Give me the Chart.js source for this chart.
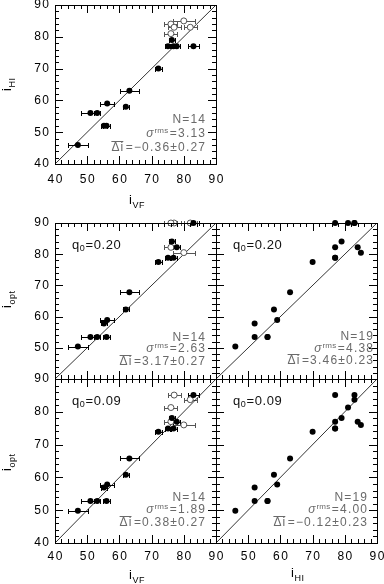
<!DOCTYPE html>
<html lang="en">
<head>
<meta charset="utf-8" />
<title>Inclinations: i_HI, i_opt vs i_VF</title>
<style>
  html, body { margin: 0; padding: 0; background: #fff; }
  #wrap { position: relative; width: 384px; height: 584px; }
  #wrap canvas { position: absolute; left: 0; top: 0; }
</style>
<script src="https://cdn.jsdelivr.net/npm/chart.js"></script>
</head>
<body>
<div id="wrap">
  <canvas id="p1" width="384" height="584"></canvas>
  <canvas id="p2" width="384" height="584"></canvas>
  <canvas id="p3" width="384" height="584"></canvas>
  <canvas id="p4" width="384" height="584"></canvas>
  <canvas id="p5" width="384" height="584"></canvas>
</div>
<script>
// axis range / labels
const tickVals = [40, 50, 60, 70, 80, 90];
const diag = [40, 90];

// 14 galaxies with filled symbols (counted in N=14)
const vfFilled    = [47.1, 51.0, 53.1, 56.0, 55.2, 56.2, 62.0, 63.1, 72.1, 75.1, 76.8, 76.3, 77.8, 83.0];
const vfErrFilled = [3.0, 3.0, 1.0, 1.0, 1.0, 2.2, 1.0, 3.0, 1.0, 1.0, 1.0, 1.0, 1.0, 1.8];
const hiFilled    = [46, 56, 56, 52, 52, 59, 58, 63, 70, 77, 77, 79, 77, 77];
const opt20Filled = [50.4, 53.5, 53.5, 53.5, 57.8, 58.9, 62.3, 67.8, 77.5, 78.9, 78.9, 84.1, 82.2, 90];
const opt09Filled = [49.8, 52.8, 52.8, 52.8, 56.9, 57.8, 60.8, 65.8, 73.9, 74.9, 74.9, 78.1, 77.0, 85.1];

// 5 galaxies with open symbols
const vfOpen    = [80, 76, 77, 82, 76];
const vfErrOpen = [3.5, 2.0, 2.0, 2.0, 2.0];
const hiOpen    = [85, 84, 83, 83, 81];
const opt20Open = [80.5, 82.2, 90, 90, 90];
const opt09Open = [76.0, 77.0, 85.1, 83.7, 81.3];

// panel statistics
const statN   = ['14', '14', '19', '14', '19'];
const statSig = ['3.13', '2.63', '4.38', '1.89', '4.00'];
const statDi  = ['\u22120.36\u00b10.27', '3.17\u00b10.27', '3.46\u00b10.23', '0.38\u00b10.27', '\u22120.12\u00b10.23'];
const q0Text  = [null, '0.20', '0.20', '0.09', '0.09'];

const FONT = '"Liberation Sans", Arial, sans-serif';
const GREY = '#6a6a6a';

function pts(xs, ys) { return xs.map((x, i) => ({ x: x, y: ys[i] })); }

const errBars = {
  id: 'errBars',
  beforeDatasetsDraw(chart) {
    const ctx = chart.ctx, xs = chart.scales.x, ys = chart.scales.y;
    chart.data.datasets.forEach(ds => {
      if (!ds.xErr) return;
      ctx.save();
      ctx.strokeStyle = ds.errColor || '#000';
      ctx.lineWidth = 1;
      ds.data.forEach((p, i) => {
        const e = ds.xErr[i];
        const x0 = Math.round(xs.getPixelForValue(p.x - e)) + 0.5;
        const x1 = Math.round(xs.getPixelForValue(p.x + e)) + 0.5;
        const y = Math.round(ys.getPixelForValue(p.y)) + 0.5;
        ctx.beginPath();
        ctx.moveTo(x0, y); ctx.lineTo(x1, y);
        ctx.moveTo(x0, y - 2.5); ctx.lineTo(x0, y + 2.5);
        ctx.moveTo(x1, y - 2.5); ctx.lineTo(x1, y + 2.5);
        ctx.stroke();
      });
      ctx.restore();
    });
  }
};

function drawTitle(ctx, t, rotate) {
  ctx.save();
  ctx.fillStyle = '#000';
  ctx.textBaseline = 'alphabetic';
  ctx.textAlign = 'left';
  ctx.translate(t.x, t.y);
  if (rotate) ctx.rotate(-Math.PI / 2);
  ctx.font = '13px ' + FONT;
  ctx.fillText('i', 0, 0);
  const w = ctx.measureText('i').width;
  ctx.font = '9px ' + FONT;
  ctx.letterSpacing = '0.5px';
  ctx.fillText(t.sub, w + 0.5, 4);
  ctx.restore();
}

// right-aligned text that ignores the trailing letter spacing
function rText(ctx, s, x, y, sp) {
  ctx.fillText(s, x + sp, y);
  return ctx.measureText(s).width - sp;
}

const deco = {
  id: 'deco',
  afterDraw(chart, args, o) {
    const ctx = chart.ctx, a = chart.chartArea;
    const xs = chart.scales.x, ys = chart.scales.y;
    ctx.save();
    ctx.strokeStyle = '#000';
    ctx.lineWidth = 1;
    ctx.strokeRect(a.left + 0.5, a.top + 0.5, a.right - a.left, a.bottom - a.top);
    // inward ticks on all four sides
    ctx.beginPath();
    for (let v = 42; v < 90; v += 2) {
      const len = v % 10 === 0 ? 8 : 4;
      const px = Math.round(xs.getPixelForValue(v)) + 0.5;
      const py = Math.round(ys.getPixelForValue(v)) + 0.5;
      ctx.moveTo(px, a.bottom); ctx.lineTo(px, a.bottom - len);
      ctx.moveTo(px, a.top); ctx.lineTo(px, a.top + len);
      ctx.moveTo(a.left, py); ctx.lineTo(a.left + len, py);
      ctx.moveTo(a.right, py); ctx.lineTo(a.right - len, py);
    }
    ctx.stroke();

    // tick labels
    ctx.fillStyle = '#000';
    ctx.font = '12px ' + FONT;
    ctx.letterSpacing = '1.5px';
    ctx.textBaseline = 'middle';
    ctx.textAlign = 'right';
    (o.yLabels || []).forEach(v => {
      const py = Math.max(ys.getPixelForValue(v), 4.5);
      rText(ctx, String(v), a.left - 6, py, 1.5);
    });
    ctx.textAlign = 'center';
    (o.xLabels || []).forEach(v => {
      ctx.fillText(String(v), xs.getPixelForValue(v) + 0.75, a.bottom + o.xLabelGap);
    });
    ctx.letterSpacing = '0px';

    if (o.xTitle) drawTitle(ctx, o.xTitle, false);
    if (o.yTitle) drawTitle(ctx, o.yTitle, true);

    // q0 label
    if (o.q0) {
      ctx.textAlign = 'left';
      ctx.textBaseline = 'middle';
      ctx.fillStyle = '#111';
      ctx.font = '13px ' + FONT;
      ctx.letterSpacing = '0.6px';
      const qx = a.left + 17, qy = a.top + 22;
      ctx.fillText('q', qx, qy);
      let w = ctx.measureText('q').width;
      ctx.font = '9px ' + FONT;
      ctx.fillText('0', qx + w, qy + 4);
      w += ctx.measureText('0').width;
      ctx.font = '13px ' + FONT;
      ctx.fillText('=' + o.q0, qx + w, qy);
      ctx.letterSpacing = '0px';
    }

    // statistics block
    const s = o.stats;
    const sp = 1.2;
    ctx.fillStyle = GREY;
    ctx.textAlign = 'right';
    ctx.textBaseline = 'middle';
    ctx.font = '12px ' + FONT;
    ctx.letterSpacing = sp + 'px';
    rText(ctx, 'N=' + s.n, s.x, s.y, sp);
    // sigma^rms
    let y2 = s.y + s.dy;
    let w = rText(ctx, '=' + s.sig, s.x, y2, sp) + sp;
    ctx.font = '8px ' + FONT;
    ctx.letterSpacing = '0.3px';
    ctx.fillText('rms', s.x - w, y2 - 3);
    w += ctx.measureText('rms').width + 1;
    ctx.font = 'italic 12px ' + FONT;
    ctx.letterSpacing = '0px';
    ctx.fillText('\u03c3', s.x - w, y2);
    // mean delta i
    let y3 = s.y + 2 * s.dy + 1;
    ctx.font = '12px ' + FONT;
    ctx.letterSpacing = sp + 'px';
    w = rText(ctx, '=' + s.di, s.x, y3, sp) + sp;
    const wd = ctx.measureText('\u0394i').width;
    ctx.fillText('\u0394i', s.x - w, y3);
    ctx.strokeStyle = GREY;
    ctx.beginPath();
    ctx.moveTo(s.x - w - wd, Math.round(y3 - 7) + 0.5);
    ctx.lineTo(s.x - w - sp, Math.round(y3 - 7) + 0.5);
    ctx.stroke();
    ctx.restore();
  }
};

function makePanel(id, box, filled, open, cfg) {
  const sets = [
    { type: 'line', data: pts(diag, diag), borderColor: '#000', borderWidth: 0.8,
      pointRadius: 0, order: 3 }
  ];
  if (open) sets.push({
    data: open.data, xErr: open.err, errColor: '#555',
    pointRadius: 3, pointBackgroundColor: '#fff', pointBorderColor: '#555',
    pointBorderWidth: 1, clip: false, order: 2
  });
  sets.push({
    data: filled.data, xErr: filled.err, errColor: '#000',
    pointRadius: 3, pointBackgroundColor: '#000', pointBorderWidth: 0,
    clip: false, order: 1
  });
  return new Chart(document.getElementById(id), {
    type: 'scatter',
    data: { datasets: sets },
    options: {
      responsive: false,
      animation: false,
      devicePixelRatio: 1,
      layout: { padding: { left: box.l, top: box.t, right: 384 - box.r, bottom: 584 - box.b } },
      scales: {
        x: { type: 'linear', min: 40, max: 90, display: false },
        y: { type: 'linear', min: 40, max: 90, display: false }
      },
      plugins: { legend: { display: false }, tooltip: { enabled: false }, deco: cfg }
    },
    plugins: [errBars, deco]
  });
}

// top-left: i_HI vs i_VF
makePanel('p1', { l: 55, r: 216, t: 3, b: 164 },
  { data: pts(vfFilled, hiFilled), err: vfErrFilled },
  { data: pts(vfOpen, hiOpen), err: vfErrOpen },
  { yLabels: tickVals, xLabels: tickVals, xLabelGap: 16,
    xTitle: { x: 129, y: 204, sub: 'VF' }, yTitle: { x: 11, y: 91, sub: 'HI' },
    stats: { x: 205, y: 120, dy: 13.5, n: statN[0], sig: statSig[0], di: statDi[0] } });

// middle-left: i_opt (q0=0.20) vs i_VF
makePanel('p2', { l: 55, r: 216, t: 223, b: 379 },
  { data: pts(vfFilled, opt20Filled), err: vfErrFilled },
  { data: pts(vfOpen, opt20Open), err: vfErrOpen },
  { yLabels: [50, 60, 70, 80, 90], q0: q0Text[1],
    yTitle: { x: 11, y: 308, sub: 'opt' },
    stats: { x: 205, y: 337.5, dy: 11.5, n: statN[1], sig: statSig[1], di: statDi[1] } });

// middle-right: i_opt (q0=0.20) vs i_HI
makePanel('p3', { l: 216, r: 377, t: 223, b: 379 },
  { data: pts(hiFilled.concat(hiOpen), opt20Filled.concat(opt20Open)) },
  null,
  { q0: q0Text[2],
    stats: { x: 373, y: 337, dy: 11.5, n: statN[2], sig: statSig[2], di: statDi[2] } });

// bottom-left: i_opt (q0=0.09) vs i_VF
makePanel('p4', { l: 55, r: 216, t: 379, b: 543 },
  { data: pts(vfFilled, opt09Filled), err: vfErrFilled },
  { data: pts(vfOpen, opt09Open), err: vfErrOpen },
  { yLabels: tickVals, xLabels: tickVals, xLabelGap: 14, q0: q0Text[3],
    xTitle: { x: 129, y: 579, sub: 'VF' }, yTitle: { x: 11, y: 471, sub: 'opt' },
    stats: { x: 205, y: 497.5, dy: 12, n: statN[3], sig: statSig[3], di: statDi[3] } });

// bottom-right: i_opt (q0=0.09) vs i_HI
makePanel('p5', { l: 216, r: 377, t: 379, b: 543 },
  { data: pts(hiFilled.concat(hiOpen), opt09Filled.concat(opt09Open)) },
  null,
  { xLabels: [50, 60, 70, 80, 90], xLabelGap: 14, q0: q0Text[4],
    xTitle: { x: 291, y: 577, sub: 'HI' },
    stats: { x: 367, y: 497.5, dy: 12, n: statN[4], sig: statSig[4], di: statDi[4] } });
</script>
</body>
</html>
